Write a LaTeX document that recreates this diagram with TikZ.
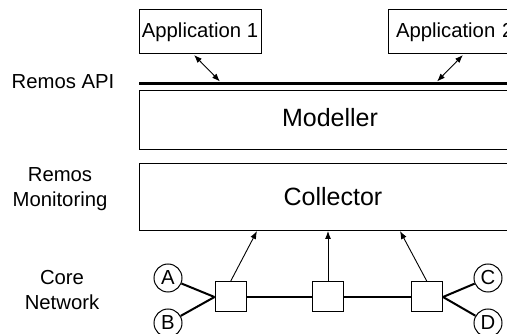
\documentclass[tikz,border=0pt]{standalone}
\usepackage{fontspec}
\setmainfont{Liberation Sans}
\usetikzlibrary{arrows.meta}
\begin{document}
\begin{tikzpicture}[x=1pt,y=-1pt,
  every node/.style={font=\fontsize{20.3}{25}\selectfont},
  box/.style={draw,line width=1pt,rectangle,inner sep=0pt},
  bigtext/.style={font=\fontsize{25}{30}\selectfont},
  layerlabel/.style={align=center,inner sep=0pt},
  switch/.style={draw,line width=1pt,rectangle,minimum width=31pt,minimum height=30pt,inner sep=0pt},
  host/.style={draw,line width=1pt,circle,minimum size=28pt,inner sep=0pt},
  link/.style={line width=2pt},
  report/.style={line width=0.9pt,-{Latex[length=8pt,width=6pt]}},
  apicall/.style={line width=0.9pt,{Latex[length=8pt,width=6pt]}-{Latex[length=8pt,width=6pt]}}]
\useasboundingbox (0,0) rectangle (507,334);
\clip (0,0) rectangle (507,334);
\fill[white] (0,0) rectangle (507,334);

% applications
\node[box,minimum width=122pt,minimum height=44pt] (app1) at (200,32) {Application 1};
\node[box,minimum width=142pt,minimum height=44pt,text width=126pt,align=left] (app2) at (459,32) {Application 2};

% API bar
\coordinate (apiL) at (139,83.5);
\coordinate (apiR) at (520,83.5);
\draw[line width=3.5pt] (apiL) -- (apiR);
\coordinate (api1) at (220,81.5);
\coordinate (api2) at (437,81.5);
\coordinate (app1s) at (194,55);
\coordinate (app2s) at (463,55);
\draw[apicall] (app1s) -- (api1);
\draw[apicall] (app2s) -- (api2);

% modeller and collector layers
\node[box,minimum width=391pt,minimum height=59pt] (modeller) at (334.5,120.5) {};
\node[bigtext] at (330,118) {Modeller};
\node[box,minimum width=391pt,minimum height=67pt] (collector) at (334.5,197.5) {};
\node[bigtext] at (333,197) {Collector};

% layer labels
\node[layerlabel] (lapi) at (63,82) {Remos API};
\node[layerlabel] (lmon) at (60,189) {Remos\\Monitoring};
\node[layerlabel] (lnet) at (62,290) {Core\\Network};

% network
\node[switch] (sw1) at (230.5,297) {};
\node[switch] (sw2) at (328,297) {};
\node[switch] (sw3) at (427,297) {};
\node[host] (A) at (168,278) {A};
\node[host] (B) at (168,323) {B};
\node[host] (C) at (488,278) {C};
\node[host] (D) at (488,323) {D};

\draw[link] (sw1) -- (sw2);
\draw[link] (sw2) -- (sw3);
\draw[link] (A) -- (sw1.west);
\draw[link] (B) -- (sw1.west);
\draw[link] (C) -- (sw3.east);
\draw[link] (D) -- (sw3.east);

% monitoring data to the collector
\coordinate (c1) at (257,231);
\coordinate (c2) at (328,231);
\coordinate (c3) at (400,231);
\draw[report] (sw1.north) -- (c1);
\draw[report] (sw2.north) -- (c2);
\draw[report] (sw3.north) -- (c3);
\end{tikzpicture}
\end{document}
